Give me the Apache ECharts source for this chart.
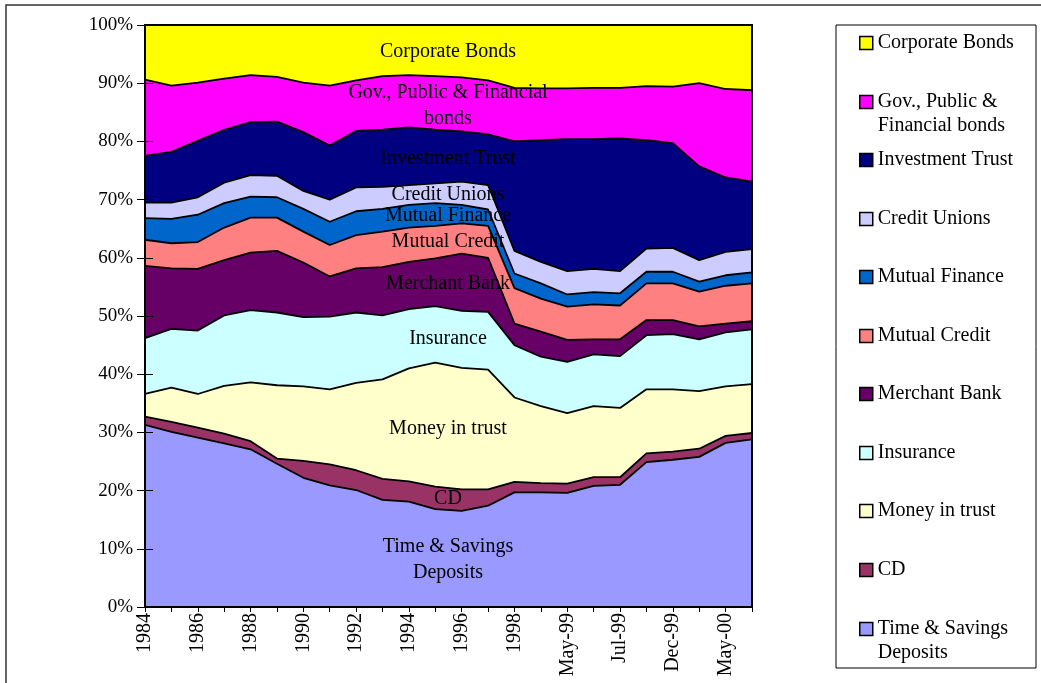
<!DOCTYPE html>
<html>
<head>
<meta charset="utf-8">
<script src="https://cdn.jsdelivr.net/npm/echarts@6/dist/echarts.min.js"></script>
<style>
html,body{margin:0;padding:0;background:#fff;}
#chart{width:1041px;height:683px;}
</style>
</head>
<body>
<div id="chart"></div>
<script>
const categories = ['1984','1985','1986','1987','1988','1989','1990','1991','1992','1993','1994','1995','1996','1997','1998','Dec-98','May-99','Jun-99','Jul-99','Sep-99','Dec-99','Mar-00','May-00','Jul-00'];
const yTickLabels = ['0%','10%','20%','30%','40%','50%','60%','70%','80%','90%','100%'];

const timeSavings     = [31.3,30.1,29.1,28.1,27.1,24.6,22.2,20.9,20.1,18.4,18.1,16.8,16.5,17.4,19.7,19.7,19.6,20.8,21.0,24.9,25.3,25.8,28.2,28.8];
const cd              = [1.4,1.7,1.7,1.7,1.4,0.9,2.9,3.6,3.4,3.6,3.5,3.9,3.7,2.8,1.8,1.6,1.6,1.5,1.3,1.5,1.4,1.4,1.2,1.1];
const moneyInTrust    = [3.9,5.9,5.8,8.2,10.1,12.6,12.8,12.9,15.0,17.1,19.4,21.3,20.9,20.6,14.5,13.2,12.1,12.2,11.9,11.0,10.7,9.9,8.5,8.4];
const insurance       = [9.6,10.1,10.9,12.1,12.4,12.5,11.9,12.5,12.1,11.0,10.2,9.7,9.8,9.9,9.0,8.5,8.8,8.9,8.9,9.3,9.5,8.9,9.3,9.4];
const merchantBank    = [12.4,10.4,10.6,9.5,9.9,10.6,9.4,6.9,7.6,8.3,8.1,8.2,9.8,9.3,3.7,4.3,3.8,2.6,2.9,2.6,2.4,2.2,1.5,1.4];
const mutualCredit    = [4.5,4.3,4.6,5.6,6.0,5.7,5.3,5.4,5.7,6.1,5.9,5.6,5.2,5.5,6.1,5.7,5.7,6.0,5.8,6.3,6.3,6.0,6.5,6.5];
const mutualFinance   = [3.7,4.2,4.7,4.2,3.6,3.5,3.9,4.0,4.1,3.9,3.9,3.9,3.2,2.8,2.5,2.6,2.1,2.1,2.1,2.0,2.0,1.7,1.8,1.9];
const creditUnions    = [2.7,2.8,3.0,3.5,3.7,3.7,3.1,3.8,4.1,3.8,3.4,3.4,4.0,4.2,3.9,3.7,4.0,4.0,3.8,4.0,4.1,3.7,4.0,4.0];
const investmentTrust = [8.0,8.7,9.7,9.1,9.1,9.3,10.1,9.3,9.7,9.8,9.9,9.2,8.6,8.7,18.8,20.9,22.7,22.3,22.8,18.6,18.0,16.1,12.8,11.6];
const govBonds        = [13.1,11.4,10.0,8.8,8.1,7.7,8.5,10.3,8.7,9.2,9.0,9.2,9.3,9.3,9.2,8.9,8.7,8.8,8.7,9.3,9.7,14.3,15.2,15.7];
const corporateBonds  = [9.4,10.4,9.9,9.2,8.6,8.9,9.9,10.4,9.5,8.8,8.6,8.8,9.0,9.5,10.8,10.9,10.9,10.8,10.8,10.5,10.6,10.0,11.0,11.2];

const seriesNames = ['Time & Savings Deposits','CD','Money in trust','Insurance','Merchant Bank','Mutual Credit','Mutual Finance','Credit Unions','Investment Trust','Gov., Public & Financial bonds','Corporate Bonds'];
const seriesData = [timeSavings, cd, moneyInTrust, insurance, merchantBank, mutualCredit, mutualFinance, creditUnions, investmentTrust, govBonds, corporateBonds];
const seriesColors = ['#9999FF','#993366','#FFFFCC','#CCFFFF','#660066','#FF8080','#0066CC','#CCCCFF','#000080','#FF00FF','#FFFF00'];

const FONT = '"Liberation Serif", "Times New Roman", serif';

const series = seriesNames.map((n, i) => ({
  name: n,
  type: 'line',
  stack: 'total',
  data: seriesData[i],
  symbol: 'none',
  showSymbol: false,
  lineStyle: { color: '#000', width: 1.8 },
  itemStyle: { color: seriesColors[i] },
  areaStyle: { color: seriesColors[i], opacity: 1 },
  emphasis: { disabled: true },
  z: 2
}));

// legend: one component per entry, top to bottom
const legendOrder = seriesNames.slice().reverse();
const legendLabels = {
  'Gov., Public & Financial bonds': ' \nGov., Public &\nFinancial bonds',
  'Time & Savings Deposits': ' \nTime & Savings\nDeposits'
};
const legendCenters = [43, 102, 160, 219, 277, 336, 394, 453, 511, 570, 629];
const legends = legendOrder.map((n, i) => {
  const two = !!legendLabels[n];
  return {
    data: [{ name: n, icon: 'rect' }],
    orient: 'vertical',
    left: 859,
    top: legendCenters[i] - (two ? 36 : 10),
    padding: 0,
    itemWidth: 13,
    itemHeight: 13,
    itemGap: 0,
    selectedMode: false,
    itemStyle: { borderColor: '#000', borderWidth: 1.5 },
    formatter: (name) => legendLabels[name] || name,
    textStyle: two
      ? { fontFamily: FONT, fontSize: 20, color: '#000', lineHeight: 24 }
      : { fontFamily: FONT, fontSize: 20, color: '#000', lineHeight: 20 }
  };
});

const annotations = [
  ['Corporate Bonds', 52],
  ['Gov., Public & Financial\nbonds', 106],
  ['Investment Trust', 159],
  ['Credit Unions', 195],
  ['Mutual Finance', 216],
  ['Mutual Credit', 242],
  ['Merchant Bank', 284],
  ['Insurance', 339],
  ['Money in trust', 429],
  ['CD', 499],
  ['Time & Savings\nDeposits', 560]
];

const graphics = [
  { type: 'rect', shape: { x: 6, y: 5, width: 1100, height: 760 }, style: { fill: null, stroke: '#333', lineWidth: 1.5 }, silent: true, z: 0 },
  { type: 'rect', shape: { x: 836, y: 25, width: 200, height: 643 }, style: { fill: '#fff', stroke: '#000', lineWidth: 1 }, silent: true, z: 0 }
].concat(annotations.map(a => ({
  type: 'text',
  x: 448, y: a[1],
  silent: true,
  z: 100,
  style: { text: a[0], fontFamily: FONT, fontSize: 20, lineHeight: 26, fill: '#000', align: 'center', verticalAlign: 'middle' }
})));

const chart = echarts.init(document.getElementById('chart'), null, { renderer: 'canvas' });
chart.setOption({
  animation: false,
  backgroundColor: '#fff',
  grid: { left: 145, right: 289, top: 25, bottom: 76, show: true, borderColor: '#000', borderWidth: 2, backgroundColor: 'transparent', z: 10 },
  legend: legends,
  xAxis: {
    type: 'category',
    data: categories,
    boundaryGap: false,
    axisLine: { lineStyle: { color: '#000', width: 2 } },
    axisTick: { show: true, interval: 0, length: 5, lineStyle: { color: '#000' } },
    axisLabel: { interval: 1, rotate: 90, fontFamily: FONT, fontSize: 20, color: '#000', margin: 6 },
    splitLine: { show: false },
    z: 20
  },
  yAxis: [
    {
      type: 'value',
      min: 0, max: 100, interval: 10,
      axisLine: { show: true, lineStyle: { color: '#000', width: 2 } },
      axisTick: { show: true, length: 8, lineStyle: { color: '#000' } },
      axisLabel: { fontFamily: FONT, fontSize: 19, color: '#000', margin: 12, formatter: (v) => yTickLabels[Math.round(v / 10)] },
      splitLine: { show: false },
      z: 20
    },
    {
      type: 'value',
      position: 'left',
      min: 0, max: 100, interval: 10,
      axisLine: { show: false },
      axisTick: { show: true, inside: true, length: 8, lineStyle: { color: '#000' } },
      axisLabel: { show: false },
      splitLine: { show: false },
      z: 20
    }
  ],
  series: series,
  graphic: graphics
});
</script>
</body>
</html>
